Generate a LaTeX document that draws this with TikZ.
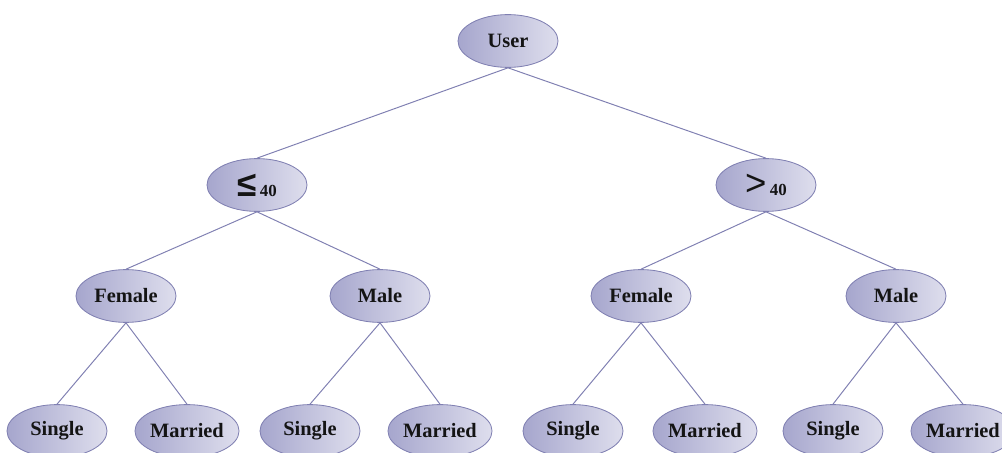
\documentclass[tikz,border=0pt]{standalone}
\usepackage{fontspec}
\setmainfont{Liberation Serif}
\newfontfamily\symfont{Liberation Sans}
\usetikzlibrary{shapes.geometric}
\definecolor{edgec}{RGB}{128,128,178}
\definecolor{darkfill}{RGB}{166,166,205}
\definecolor{lightfill}{RGB}{222,222,237}
\definecolor{txt}{RGB}{20,20,20}
\tikzset{
  tnode/.style={ellipse, draw=edgec, line width=0.6pt, left color=darkfill, right color=lightfill,
    minimum width=2.5cm, minimum height=1.32cm, inner sep=0pt, text=txt,
    font=\fontsize{14.5}{16}\selectfont\bfseries},
  link/.style={draw=edgec, line width=0.7pt}
}
\begin{document}
\begin{tikzpicture}[x=0.025cm, y=-0.025cm]
\useasboundingbox (0,0) rectangle (1002,453);
\node[tnode] (user) at (508,41) {User};
\node[tnode] (le) at (257,185) {{\symfont\fontsize{25}{25}\selectfont ≤}\,{\fontsize{12}{12}\selectfont 40}};
\node[tnode] (gt) at (766,185) {{\symfont\fontsize{26}{26}\selectfont\mdseries >}\,{\fontsize{12}{12}\selectfont 40}};
\node[tnode] (f1) at (126,296) {Female};
\node[tnode] (m1) at (380,296) {Male};
\node[tnode] (f2) at (641,296) {Female};
\node[tnode] (m2) at (896,296) {Male};
\node[tnode] (s1) at (57,431) {Single};
\node[tnode] (r1) at (187,431) {Married};
\node[tnode] (s2) at (310,431) {Single};
\node[tnode] (r2) at (440,431) {Married};
\node[tnode] (s3) at (573,431) {Single};
\node[tnode] (r3) at (705,431) {Married};
\node[tnode] (s4) at (833,431) {Single};
\node[tnode] (r4) at (963,431) {Married};
\draw[link] (user.south) -- (le.north);
\draw[link] (user.south) -- (gt.north);
\draw[link] (le.south) -- (f1.north);
\draw[link] (le.south) -- (m1.north);
\draw[link] (gt.south) -- (f2.north);
\draw[link] (gt.south) -- (m2.north);
\draw[link] (f1.south) -- (s1.north);
\draw[link] (f1.south) -- (r1.north);
\draw[link] (m1.south) -- (s2.north);
\draw[link] (m1.south) -- (r2.north);
\draw[link] (f2.south) -- (s3.north);
\draw[link] (f2.south) -- (r3.north);
\draw[link] (m2.south) -- (s4.north);
\draw[link] (m2.south) -- (r4.north);
\end{tikzpicture}
\end{document}
